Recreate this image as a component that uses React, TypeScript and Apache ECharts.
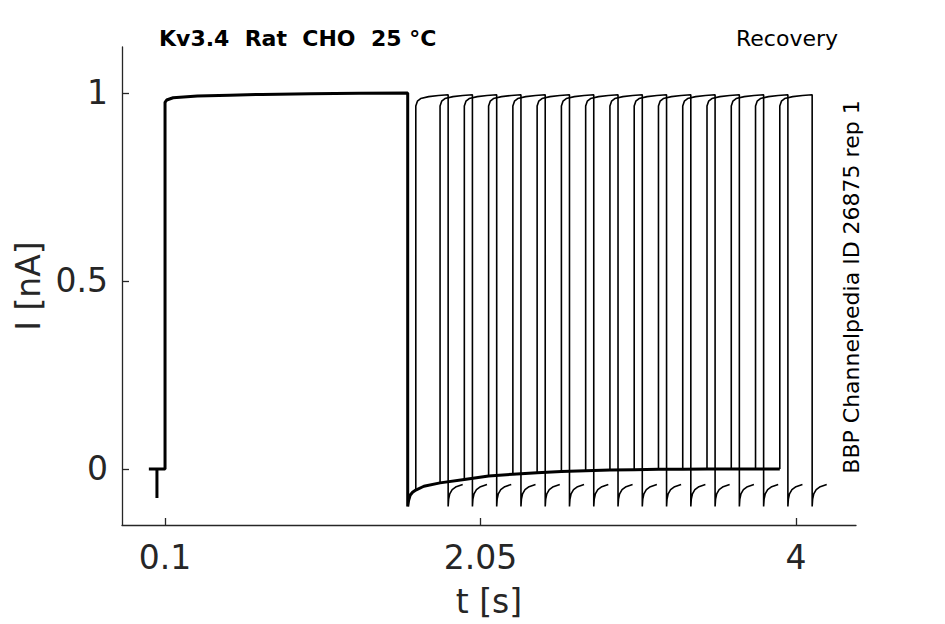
import React, { useEffect, useRef } from "react";
import * as echarts from "echarts";

// First (conditioning) pulse, shared by all sweeps: time [s], current [nA]
const T_MAIN = [0, 0.05, 0.05, 0.05, 0.1, 0.1, 0.11, 0.15, 0.3, 0.5, 0.7, 1.0, 1.3, 1.6];
const I_MAIN = [0, 0, -0.077, 0, 0, 0.975, 0.981, 0.987, 0.992, 0.994, 0.996, 0.998, 0.999, 1.0];

// Tail current after the first pulse (time offset from 1.6 s)
const RECOVERY_DT = [0, 0.005, 0.015, 0.03, 0.05, 0.1, 0.2, 0.35, 0.5, 0.65, 0.8, 0.95, 1.1, 1.25, 1.4, 1.55, 1.7, 1.85, 2.0, 2.15, 2.3];
const RECOVERY_I = [-0.1, -0.085, -0.07, -0.062, -0.056, -0.046, -0.037, -0.028, -0.019, -0.014, -0.01, -0.007, -0.005, -0.003, -0.002, -0.001, -0.001, 0, 0, 0, 0];

// Recovery intervals between the two pulses [s]
const RECOVERY_INTERVALS = [0.05, 0.2, 0.35, 0.5, 0.65, 0.8, 0.95, 1.1, 1.25, 1.4, 1.55, 1.7, 1.85, 2.0, 2.15, 2.3];

// Second (test) pulse (offset from its start)
const PULSE_DT = [0, 0.01, 0.03, 0.08, 0.14, 0.2];
const PULSE_I = [0.965, 0.978, 0.985, 0.99, 0.993, 0.995];

// Tail after the test pulse (offset from its end)
const TAIL_DT = [0, 0.003, 0.01, 0.025, 0.05, 0.09];
const TAIL_I = [-0.1, -0.08, -0.066, -0.055, -0.047, -0.041];

const X_TICKS = [0.1, 2.05, 4];
const Y_TICKS = [0, 0.5, 1];

const FIRST_PULSE_END = 1.6;
const PULSE_LEN = 0.2;

const FONT = "DejaVu Sans";
const AXIS_COLOR = "#262626";

export default function App() {
  const ref = useRef<HTMLDivElement>(null);

  useEffect(() => {
    if (!ref.current) return;
    const chart = echarts.init(ref.current, undefined, { renderer: "svg" });

    const lastStart = RECOVERY_INTERVALS[RECOVERY_INTERVALS.length - 1];
    const shared: number[][] = T_MAIN.map((t, i) => [t, I_MAIN[i]]);
    RECOVERY_DT.forEach((dt, i) => {
      if (dt <= lastStart) shared.push([FIRST_PULSE_END + dt, RECOVERY_I[i]]);
    });

    const sweeps = RECOVERY_INTERVALS.map((iv) => {
      const idx = RECOVERY_DT.indexOf(iv);
      const start = FIRST_PULSE_END + iv;
      const pts: number[][] = [[start, RECOVERY_I[idx]]];
      PULSE_DT.forEach((dt, k) => pts.push([start + dt, PULSE_I[k]]));
      TAIL_DT.forEach((dt, k) => pts.push([start + PULSE_LEN + dt, TAIL_I[k]]));
      return {
        type: "line" as const,
        data: pts,
        showSymbol: false,
        silent: true,
        lineStyle: { color: "#000", width: 1.6 },
        z: 2,
      };
    });

    chart.setOption({
      animation: false,
      backgroundColor: "#fff",
      grid: { left: 122, right: 89, top: 47, bottom: 99 },
      xAxis: {
        type: "value",
        min: -0.166,
        max: 4.371,
        name: "t [s]",
        nameLocation: "middle",
        nameGap: 60,
        nameTextStyle: { fontFamily: FONT, fontSize: 33, color: AXIS_COLOR },
        axisLine: { show: true, onZero: false, lineStyle: { color: AXIS_COLOR, width: 1.3 } },
        axisTick: { show: true, inside: true, length: 7, customValues: X_TICKS, lineStyle: { color: AXIS_COLOR, width: 1.3 } },
        axisLabel: { customValues: X_TICKS, margin: 16, fontFamily: FONT, fontSize: 33, color: AXIS_COLOR },
        splitLine: { show: false },
      },
      yAxis: {
        type: "value",
        min: -0.149,
        max: 1.122,
        name: "I [nA]",
        nameLocation: "middle",
        nameGap: 76,
        nameRotate: 90,
        nameTextStyle: { fontFamily: FONT, fontSize: 33, color: AXIS_COLOR },
        axisLine: { show: true, onZero: false, lineStyle: { color: AXIS_COLOR, width: 1.3 } },
        axisTick: { show: true, inside: true, length: 7, customValues: Y_TICKS, lineStyle: { color: AXIS_COLOR, width: 1.3 } },
        axisLabel: { customValues: Y_TICKS, margin: 14, fontFamily: FONT, fontSize: 33, color: AXIS_COLOR },
        splitLine: { show: false },
      },
      graphic: [
        {
          type: "text",
          left: 159,
          top: 27,
          style: { text: "Kv3.4  Rat  CHO  25 °C", fontFamily: FONT, fontSize: 22, fontWeight: "bold", fill: "#000" },
        },
        {
          type: "text",
          right: 107,
          top: 27,
          style: { text: "Recovery", fontFamily: FONT, fontSize: 22, fill: "#000" },
        },
        {
          type: "text",
          x: 851,
          y: 287,
          rotation: Math.PI / 2,
          style: {
            text: "BBP Channelpedia ID 26875 rep 1",
            fontFamily: FONT,
            fontSize: 22,
            fill: "#000",
            align: "center",
            verticalAlign: "middle",
          },
        },
      ],
      series: [
        {
          type: "line",
          data: shared,
          showSymbol: false,
          silent: true,
          lineStyle: { color: "#000", width: 3 },
          z: 3,
        },
        ...sweeps,
      ],
    });

    return () => chart.dispose();
  }, []);

  return (
    <div
      ref={ref}
      style={{ position: "fixed", left: 0, top: 0, width: 945, height: 624, background: "#fff" }}
    />
  );
}
